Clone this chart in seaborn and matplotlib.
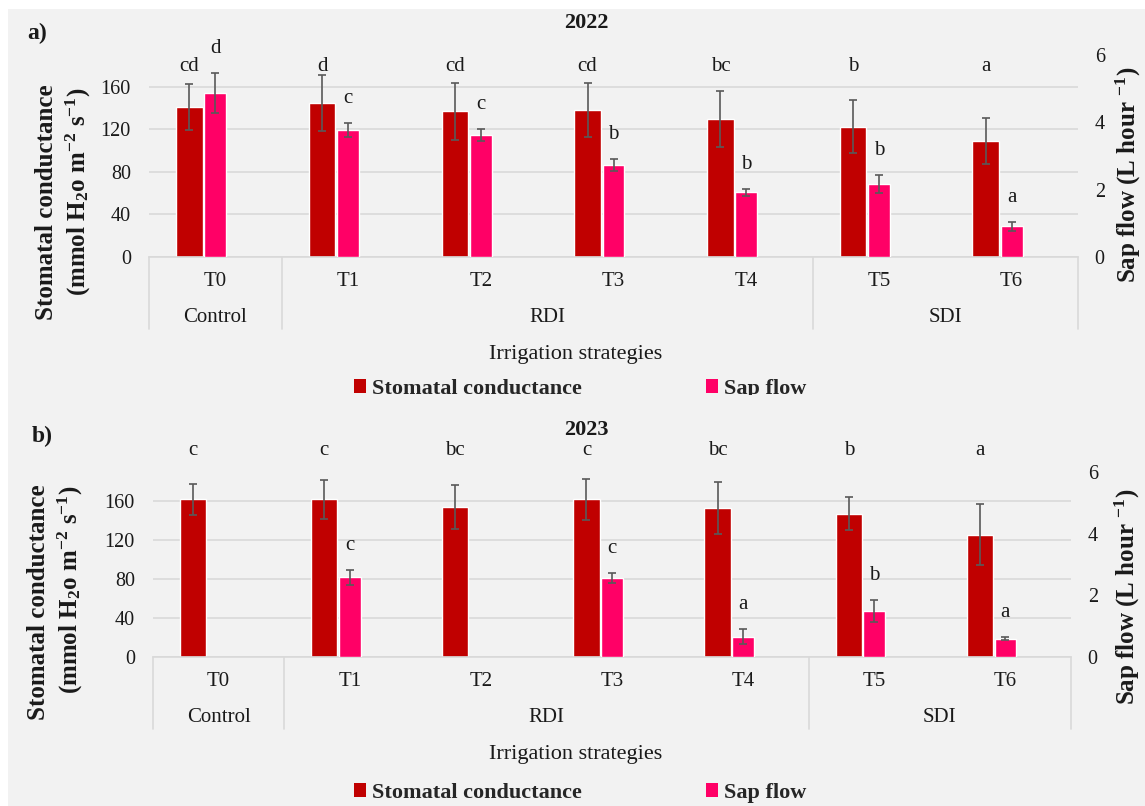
import numpy as np
import pandas as pd
import matplotlib
matplotlib.use("Agg")
import matplotlib.pyplot as plt
import matplotlib.transforms as mtransforms
from matplotlib.patches import Rectangle, Patch
import seaborn as sns

# ---------------------------------------------------------------- data
treatments = ["T0", "T1", "T2", "T3", "T4", "T5", "T6"]
group_names = ["Control", "RDI", "SDI"]
group_first = [0, 1, 5]
group_last = [0, 4, 6]

# 2022 season
gs_2022 = [141, 145, 137, 138, 130, 122.5, 109]
gs_err_2022 = [22, 26.5, 26.5, 25.5, 26.5, 25, 21.5]
sap_2022 = [4.88, 3.78, 3.62, 2.72, 1.92, 2.17, 0.91]
sap_err_2022 = [0.60, 0.21, 0.17, 0.18, 0.11, 0.27, 0.14]
gs_letters_2022 = ["cd", "d", "cd", "cd", "bc", "b", "a"]
sap_letters_2022 = ["d", "c", "c", "b", "b", "b", "a"]

# 2023 season (sap flow not measured on T0 and T2)
gs_2023 = [162, 162, 154, 162, 153, 147, 125.5]
gs_err_2023 = [15.7, 19.8, 23, 21, 26.7, 17, 31.3]
sap_2023 = [np.nan, 2.58, np.nan, 2.57, 0.66, 1.50, 0.60]
sap_err_2023 = [np.nan, 0.24, np.nan, 0.17, 0.24, 0.36, 0.05]
gs_letters_2023 = ["c", "c", "bc", "c", "bc", "b", "a"]
sap_letters_2023 = ["", "c", "", "c", "a", "b", "a"]

gs_ticks = [0, 40, 80, 120, 160]
sap_ticks = [0, 2, 4, 6]

# ---------------------------------------------------------------- style
sns.set_style("white")
plt.rcParams["font.family"] = ["Liberation Serif", "DejaVu Serif"]
plt.rcParams["mathtext.fontset"] = "custom"
plt.rcParams["mathtext.rm"] = "Liberation Serif"
plt.rcParams["mathtext.it"] = "Liberation Serif:italic"
plt.rcParams["mathtext.bf"] = "Liberation Serif:bold"

GS_COLOR = "#C00000"
SAP_COLOR = "#FF0066"
ERR_COLOR = "#595959"
GRID_COLOR = "#D9D9D9"
BG_COLOR = "#F2F2F2"
TXT_COLOR = "#1a1a1a"

W, H, DPI = 1145, 806, 100
PX = 72.0 / DPI  # points per pixel

fig = plt.figure(figsize=(W / DPI, H / DPI), dpi=DPI)
fig.patch.set_facecolor("white")


def fx(px):
    return px / W


def fy(py):
    return 1 - py / H


# chart area background
fig.add_artist(Rectangle((fx(8), 0), 1 - fx(8), fy(9), transform=fig.transFigure,
                         facecolor=BG_COLOR, edgecolor="none", zorder=-1))


def draw_panel(left, right, top, bottom, gs, gs_err, sap, sap_err,
               gs_letters, sap_letters, gs_letter_row, zbase):
    rect = [fx(left), fy(bottom), (right - left) / W, (bottom - top) / H]
    ax = fig.add_axes(rect)
    ax.set_facecolor("none")
    ax2 = ax.twinx()
    ax2.set_facecolor("none")
    if zbase is not None:
        ax.set_zorder(zbase)
        ax2.set_zorder(zbase + 1)

    idx = np.arange(len(treatments))
    gs_pos = idx - 0.195
    sap_pos = idx + 0.0

    df_gs = pd.DataFrame({"pos": gs_pos, "value": gs})
    df_sap = pd.DataFrame({"pos": sap_pos, "value": sap}).dropna()

    sns.barplot(data=df_gs, x="pos", y="value", native_scale=True, width=0.20,
                color=GS_COLOR, saturation=1, errorbar=None, ax=ax, zorder=2)
    sns.barplot(data=df_sap, x="pos", y="value", native_scale=True, width=0.165,
                color=SAP_COLOR, saturation=1, errorbar=None, ax=ax2, zorder=2)

    ax.errorbar(gs_pos, gs, yerr=gs_err, fmt="none", ecolor=ERR_COLOR,
                elinewidth=1.2, capsize=3, capthick=1.2, zorder=4)
    sap_arr = np.asarray(sap, float)
    sap_err_arr = np.asarray(sap_err, float)
    ok = ~np.isnan(sap_arr)
    ax2.errorbar(sap_pos[ok], sap_arr[ok], yerr=sap_err_arr[ok], fmt="none",
                 ecolor=ERR_COLOR, elinewidth=1.2, capsize=3, capthick=1.2, zorder=4)

    # axis ranges
    ax.set_xlim(-0.5, len(treatments) - 0.5)
    ax.set_ylim(0, 190)
    ax2.set_ylim(0, 6)
    ax.set_yticks(gs_ticks)
    ax2.set_yticks(sap_ticks)
    ax.set_xticks([])
    ax2.set_xticks([])
    for a in (ax, ax2):
        a.set_xlabel("")
        a.set_ylabel("")
        for s in a.spines.values():
            s.set_visible(False)
    ax.spines["bottom"].set_visible(True)
    ax.spines["bottom"].set_color(GRID_COLOR)
    ax.spines["bottom"].set_linewidth(1.2)
    ax.grid(axis="y", color=GRID_COLOR, linewidth=1.2)
    ax.grid(axis="x", visible=False)
    ax2.grid(False)
    ax.set_axisbelow(True)
    ax.tick_params(axis="y", length=0, pad=13, labelsize=14.5, labelcolor=TXT_COLOR)
    ax2.tick_params(axis="y", length=0, pad=12, labelsize=14.5, labelcolor=TXT_COLOR)

    # significance letters
    row_tf = mtransforms.blended_transform_factory(ax.transData, ax.transAxes)
    for x, lab in zip(gs_pos, gs_letters):
        ax.text(x, gs_letter_row, lab, transform=row_tf, ha="center", va="baseline",
                fontsize=15, color=TXT_COLOR, clip_on=False)
    for x, v, e, lab in zip(sap_pos, sap_arr, sap_err_arr, sap_letters):
        if lab and not np.isnan(v):
            ax2.annotate(lab, xy=(x, v + e), xytext=(0, 20 * PX), textcoords="offset points",
                         ha="center", va="baseline", fontsize=15, color=TXT_COLOR,
                         annotation_clip=False)

    # two-level category axis
    axis_h_px = bottom - top
    for i, name in enumerate(treatments):
        ax.annotate(name, xy=(i, 0), xycoords=row_tf, xytext=(0, -25 * PX),
                    textcoords="offset points", ha="center", va="center",
                    fontsize=15, color=TXT_COLOR, annotation_clip=False)
    for name, g0, g1 in zip(group_names, group_first, group_last):
        ax.annotate(name, xy=((g0 + g1) / 2, 0), xycoords=row_tf, xytext=(0, -61 * PX),
                    textcoords="offset points", ha="center", va="center",
                    fontsize=15, color=TXT_COLOR, annotation_clip=False)
    dividers = [g0 - 0.5 for g0 in group_first] + [group_last[-1] + 0.5]
    depth = 72.0 / axis_h_px
    for xd in dividers:
        ax.plot([xd, xd], [0, -depth], transform=row_tf, color=GRID_COLOR,
                linewidth=1.2, clip_on=False, zorder=1)
    return ax, ax2


# ---------------------------------------------------------------- panel a
draw_panel(149, 1078, 55, 257, gs_2022, gs_err_2022, sap_2022, sap_err_2022,
           gs_letters_2022, sap_letters_2022, gs_letter_row=0.92, zbase=None)

# ---------------------------------------------------------------- panel b
draw_panel(153, 1071, 472, 657, gs_2023, gs_err_2023, sap_2023, sap_err_2023,
           gs_letters_2023, sap_letters_2023, gs_letter_row=1.09, zbase=6)

ylab1 = "Stomatal conductance"
ylab2 = r"(mmol H$_\mathbf{2}$o m$^{\mathbf{-2}}$ s$^{\mathbf{-1}}$)"
ylab_r = r"Sap flow (L hour $^{\mathbf{-1}}$)"

panel_text = [
    # tag, tag pos, year, year pos, ylab1 pos, ylab2 pos, right label pos, xlabel y, legend y
    ("a)", (37, 33), "2022", (586, 23), (47, 202), (78, 192), (1128, 175), 354, 389),
    ("b)", (42, 436), "2023", (586, 430), (39, 602), (70, 590), (1127, 597), 755, 793),
]

legends = []
for tag, tpos, year, ypos, l1, l2, lr, xl_y, lg_y in panel_text:
    fig.text(fx(tpos[0]), fy(tpos[1]), tag, ha="center", va="center",
             fontsize=17, fontweight="bold", color=TXT_COLOR, zorder=8)
    fig.text(fx(ypos[0]), fy(ypos[1]), year, ha="center", va="center",
             fontsize=16, fontweight="bold", color=TXT_COLOR, zorder=8)
    fig.text(fx(l1[0]), fy(l1[1]), ylab1, rotation=90, ha="center", va="center",
             fontsize=18, fontweight="bold", color=TXT_COLOR, zorder=8)
    fig.text(fx(l2[0]), fy(l2[1]), ylab2, rotation=90, ha="center", va="center",
             fontsize=18, fontweight="bold", color=TXT_COLOR, zorder=8)
    fig.text(fx(lr[0]), fy(lr[1]), ylab_r, rotation=90, ha="center", va="center",
             fontsize=18, fontweight="bold", color=TXT_COLOR, zorder=8)
    fig.text(fx(576), fy(xl_y), "Irrigation strategies", ha="center", va="center",
             fontsize=16, color=TXT_COLOR, zorder=8)
    leg = fig.legend(handles=[Patch(facecolor=GS_COLOR, edgecolor="none"),
                              Patch(facecolor=SAP_COLOR, edgecolor="none")],
                     labels=["Stomatal conductance", "Sap flow"],
                     loc="center", bbox_to_anchor=(fx(580), fy(lg_y)), ncol=2,
                     frameon=False, prop={"weight": "bold", "size": 16},
                     handlelength=0.55, handleheight=0.55, handletextpad=0.25,
                     columnspacing=5.6, borderaxespad=0)
    legends.append(leg)

legends[0].set_zorder(5)
legends[1].set_zorder(8)

# lower chart background; it trims the foot of the first legend row
fig.add_artist(Rectangle((fx(8), 0), 1 - fx(8), fy(395), transform=fig.transFigure,
                         facecolor=BG_COLOR, edgecolor="none", zorder=5.5))

fig.savefig("out.png", dpi=DPI, facecolor=fig.get_facecolor())
